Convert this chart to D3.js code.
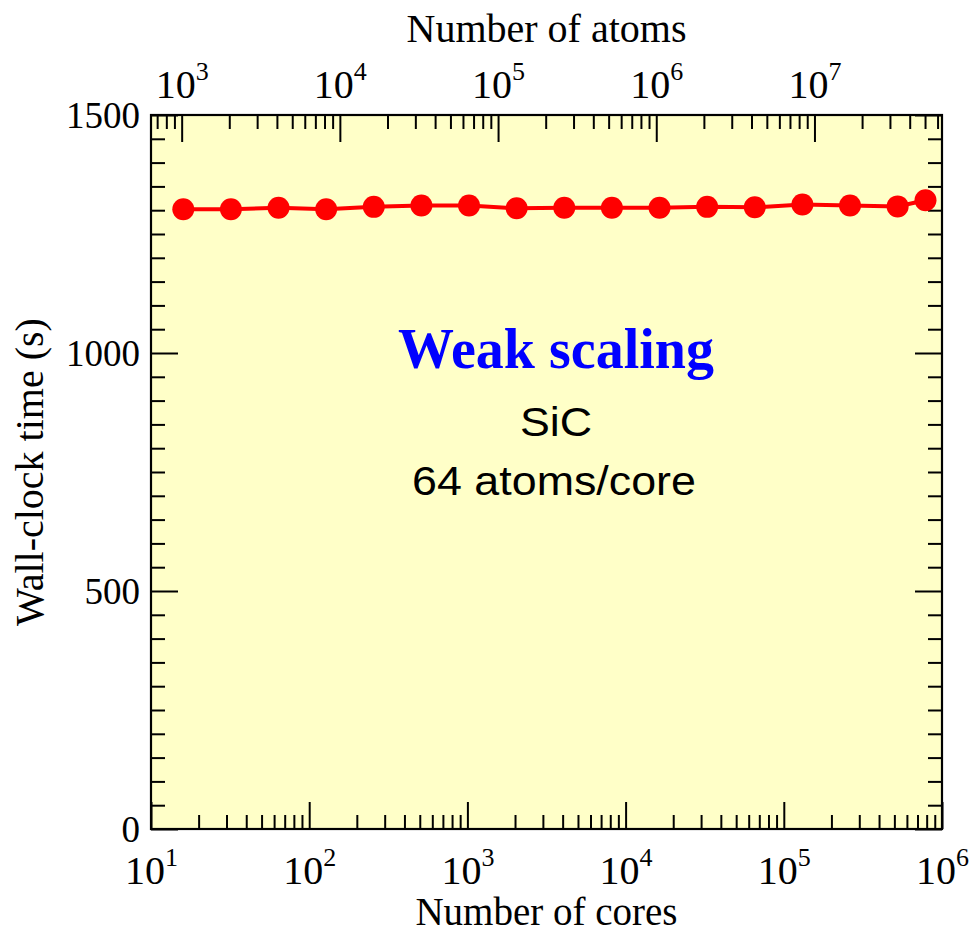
<!DOCTYPE html>
<html><head><meta charset="utf-8">
<script src="https://cdn.jsdelivr.net/npm/d3@7"></script>
<style>body{margin:0;background:#fff}</style>
</head><body><svg id="c" width="970" height="934"></svg>
<script>
const cores = [16,32,64,128,256,512,1024,2048,4096,8192,16384,32768,65536,131072,262144,524288,786432];
const wallTime = [1302,1302,1305,1302,1307,1310,1310,1304,1305,1305,1305,1307,1306,1312,1310,1308,1321];
const atomsPerCore = 64;
const coreTickExps = [1,2,3,4,5,6];
const atomTickExps = [3,4,5,6,7];
const timeTicks = [0,500,1000,1500];
const title = "Weak scaling";
const subtitle1 = "SiC";
const subtitle2 = "64 atoms/core";

const L=151,R=942,T=115,B=829;
const svg=d3.select("#c");
const serif="'Liberation Serif','Times New Roman',serif";
const sans="'Liberation Sans',Arial,sans-serif";
const x=d3.scaleLog().domain([10,1e6]).range([L,R]);
const xa=d3.scaleLog().domain([10*atomsPerCore,1e6*atomsPerCore]).range([L,R]);
const y=d3.scaleLinear().domain([0,1500]).range([B,T]);

svg.append("rect").attr("x",L).attr("y",T).attr("width",R-L).attr("height",B-T).attr("fill","#FFFFC8");

function minorLog(scale){
  const [a,b]=scale.domain(); const out=[];
  for(let e=Math.floor(Math.log10(a));e<=Math.ceil(Math.log10(b));e++){
    for(let m=2;m<=9;m++){const v=m*Math.pow(10,e); if(v>a&&v<b) out.push(v);}
  }
  return out;
}
function style(g){g.select(".domain").remove(); g.selectAll(".tick line").attr("stroke","#000").attr("stroke-width",2);}

// bottom
svg.append("g").attr("transform",`translate(0,${B})`).call(d3.axisBottom(x).tickValues(minorLog(x)).tickSize(-14).tickFormat("")).call(style);
const bx=svg.append("g").attr("transform",`translate(0,${B})`).call(d3.axisBottom(x).tickValues(coreTickExps.map(e=>Math.pow(10,e))).tickSize(-27).tickFormat("")).call(style);
// top
svg.append("g").attr("transform",`translate(0,${T})`).call(d3.axisTop(xa).tickValues(minorLog(xa)).tickSize(-14).tickFormat("")).call(style);
const tx=svg.append("g").attr("transform",`translate(0,${T})`).call(d3.axisTop(xa).tickValues(atomTickExps.map(e=>Math.pow(10,e))).tickSize(-27).tickFormat("")).call(style);
// left/right
const minorY=d3.range(50,1500,50).filter(v=>v%500!==0);
svg.append("g").attr("transform",`translate(${L},0)`).call(d3.axisLeft(y).tickValues(minorY).tickSize(-14).tickFormat("")).call(style);
const ly=svg.append("g").attr("transform",`translate(${L},0)`).call(d3.axisLeft(y).tickValues(timeTicks).tickSize(-27).tickFormat(d3.format("d")).tickPadding(10)).call(style);
svg.append("g").attr("transform",`translate(${R},0)`).call(d3.axisRight(y).tickValues(minorY).tickSize(-14).tickFormat("")).call(style);
svg.append("g").attr("transform",`translate(${R},0)`).call(d3.axisRight(y).tickValues(timeTicks).tickSize(-27).tickFormat("")).call(style);

ly.selectAll(".tick text").attr("font-family",serif).attr("font-size",37).attr("fill","#000").attr("x",-11).attr("dy","0.34em");

function supLabel(g,exps,yy){
  g.selectAll(".tick").each(function(d,i){
    const t=d3.select(this).select("text").attr("y",yy).attr("dy",0).attr("font-family",serif).attr("fill","#000").attr("text-anchor","middle").text("");
    t.append("tspan").attr("font-size",40).text("10");
    t.append("tspan").attr("font-size",26).attr("dy",-18).text(String(exps[i]));
  });
}
supLabel(bx,coreTickExps,55);
supLabel(tx,atomTickExps,-17);

// frame
svg.append("rect").attr("x",L).attr("y",T).attr("width",R-L).attr("height",B-T).attr("fill","none").attr("stroke","#000").attr("stroke-width",2.2);

// series
const line=d3.line().x((d,i)=>x(cores[i])).y(d=>y(d));
svg.append("path").datum(wallTime).attr("d",line).attr("fill","none").attr("stroke","#FF0000").attr("stroke-width",4);
svg.append("g").selectAll("circle").data(wallTime).join("circle").attr("cx",(d,i)=>x(cores[i])).attr("cy",d=>y(d)).attr("r",11).attr("fill","#FF0000");

// titles
svg.append("text").attr("x",(L+R)/2).attr("y",925).attr("text-anchor","middle").attr("font-family",serif).attr("font-size",39).text("Number of cores");
svg.append("text").attr("x",(L+R)/2).attr("y",42).attr("text-anchor","middle").attr("font-family",serif).attr("font-size",40).text("Number of atoms");
svg.append("text").attr("transform",`translate(43,${(T+B)/2}) rotate(-90)`).attr("text-anchor","middle").attr("font-family",serif).attr("font-size",40).text("Wall-clock time (s)");

svg.append("text").attr("x",556).attr("y",368).attr("text-anchor","middle").attr("font-family",serif).attr("font-weight","bold").attr("font-size",56).attr("fill","#0000FF").text(title);
svg.append("text").attr("transform","translate(556,436) scale(1.12,1)").attr("text-anchor","middle").attr("font-family",sans).attr("font-size",40).attr("fill","#000").text(subtitle1);
svg.append("text").attr("transform","translate(554,495) scale(1.12,1)").attr("text-anchor","middle").attr("font-family",sans).attr("font-size",40).attr("fill","#000").text(subtitle2);
</script></body></html>
